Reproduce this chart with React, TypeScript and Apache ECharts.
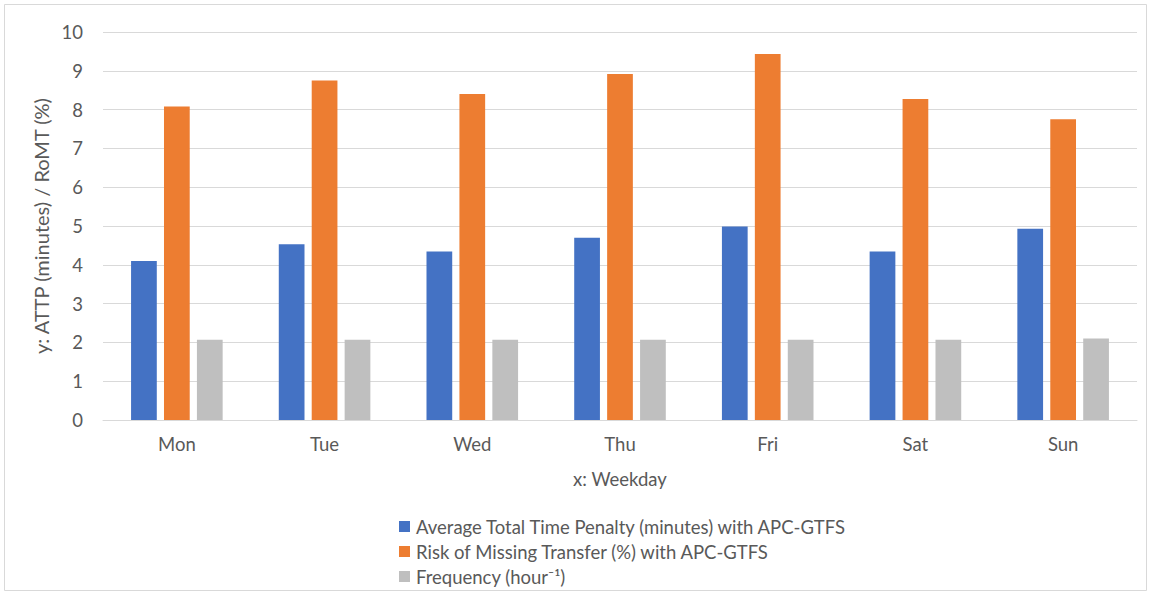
import React, { useEffect, useRef } from "react";
import * as echarts from "echarts";

const weekdays = ["Mon", "Tue", "Wed", "Thu", "Fri", "Sat", "Sun"];
const attp = [4.1, 4.53, 4.34, 4.7, 4.99, 4.34, 4.93];
const romt = [8.08, 8.75, 8.4, 8.92, 9.43, 8.27, 7.75];
const frequency = [2.07, 2.07, 2.07, 2.07, 2.07, 2.07, 2.1];

const seriesNames = [
  "Average Total Time Penalty (minutes) with APC-GTFS",
  "Risk of Missing Transfer (%) with APC-GTFS",
  "Frequency (hour\u207B\u00B9)",
];
const colors = ["#4472C4", "#ED7D31", "#BFBFBF"];

const FONT = "Lato, 'Open Sans', sans-serif";
const TXT = "#595959";

export default function App() {
  const ref = useRef<HTMLDivElement>(null);
  useEffect(() => {
    if (!ref.current) return;
    const chart = echarts.init(ref.current, undefined, { renderer: "svg" });
    const values = [attp, romt, frequency];
    chart.setOption({
      animation: false,
      backgroundColor: "#ffffff",
      textStyle: { fontFamily: FONT },
      graphic: [
        {
          type: "rect",
          shape: { x: 4.5, y: 4.5, width: 1142, height: 586 },
          style: { fill: "none", stroke: "#d9d9d9", lineWidth: 1 },
          silent: true,
        },
      ],
      grid: { left: 103, right: 14, top: 32, bottom: 172, containLabel: false },
      xAxis: {
        type: "category",
        data: weekdays,
        name: "x: Weekday",
        nameLocation: "middle",
        nameGap: 49,
        nameTextStyle: { color: TXT, fontSize: 18.5, fontFamily: FONT },
        axisLine: { lineStyle: { color: "#d9d9d9", width: 1 } },
        axisTick: { show: false },
        axisLabel: { color: TXT, fontSize: 18.5, margin: 14, fontFamily: FONT },
      },
      yAxis: {
        type: "value",
        min: 0,
        max: 10,
        interval: 1,
        name: "y: ATTP (minutes) / RoMT (%)",
        nameLocation: "middle",
        nameGap: 44,
        nameRotate: 90,
        nameTextStyle: { color: TXT, fontSize: 20, fontFamily: FONT },
        axisLine: { show: false },
        axisTick: { show: false },
        axisLabel: { color: TXT, fontSize: 18.5, margin: 20, fontFamily: FONT },
        splitLine: { lineStyle: { color: "#d9d9d9", width: 1 } },
      },
      legend: {
        orient: "vertical",
        left: 399,
        top: 517,
        height: 75,
        padding: 0,
        itemWidth: 11,
        itemHeight: 11,
        itemGap: 6,
        icon: "rect",
        textStyle: {
          color: TXT,
          fontSize: 18.5,
          lineHeight: 19,
          fontFamily: FONT,
          padding: [0, 0, 0, 1],
        },
        data: seriesNames,
      },
      series: seriesNames.map((name, i) => ({
        name,
        type: "bar",
        data: values[i],
        itemStyle: { color: colors[i] },
        barGap: "28%",
        barCategoryGap: "38%",
      })),
    });
    return () => chart.dispose();
  }, []);
  return (
    <div
      ref={ref}
      style={{ position: "fixed", left: 0, top: 0, width: 1151, height: 592 }}
    />
  );
}
